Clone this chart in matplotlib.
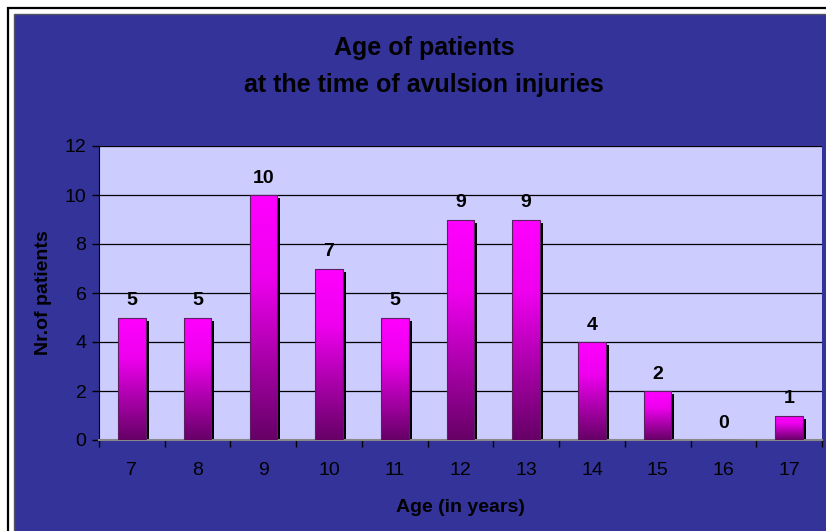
import numpy as np
import matplotlib
matplotlib.use("Agg")
import matplotlib.pyplot as plt
from matplotlib.colors import LinearSegmentedColormap
from matplotlib.patches import Rectangle
from matplotlib.transforms import offset_copy

plt.rcParams['font.family'] = ['Liberation Sans', 'DejaVu Sans']

# data
ages = ["7", "8", "9", "10", "11", "12", "13", "14", "15", "16", "17"]
patients = [5, 5, 10, 7, 5, 9, 9, 4, 2, 0, 1]

W, H = 826, 531
fig = plt.figure(figsize=(W / 100, H / 100), dpi=100)
fig.patch.set_facecolor("white")

# outer frame: black line, white gap, navy panel
fig.patches.append(Rectangle((8 / W, -0.1), 1.2, (H - 8) / H + 0.1,
                             transform=fig.transFigure, facecolor="none",
                             edgecolor="black", linewidth=1.6, zorder=-10))
fig.patches.append(Rectangle((13.5 / W, -0.1), 1.2, (H - 14) / H + 0.1,
                             transform=fig.transFigure, facecolor="#333399",
                             edgecolor="#555566", linewidth=1.0, zorder=-9))

ax = fig.add_axes([99 / W, (H - 440) / H, (822 - 99) / W, (440 - 146) / H])
ax.set_facecolor("#CCCCFF")

x = np.arange(len(ages))
bw = 0.42

# black drop shadow, shifted a few pixels right and down
shadow_tr = offset_copy(ax.transData, fig=fig, x=3, y=-3, units="dots")
ax.bar(x, patients, width=bw, color="black", zorder=2.5, transform=shadow_tr)

bars = ax.bar(x, patients, width=bw, facecolor="none", edgecolor="#5a2060",
              linewidth=0.8, zorder=3.1)

cmap = LinearSegmentedColormap.from_list("mag", ["#660066", "#AA00AA", "#EE00EE", "#FF00FF"])
grad = np.linspace(0, 1, 256).reshape(-1, 1)
for b, v in zip(bars, patients):
    if v > 0:
        x0, w = b.get_x(), b.get_width()
        im = ax.imshow(grad, extent=[x0, x0 + w, 0, v], origin="lower", cmap=cmap,
                       aspect="auto", zorder=3, interpolation="bilinear")
        im.set_clip_path(b)
    ax.annotate(str(v), (b.get_x() + b.get_width() / 2, v), xytext=(0, 6),
                textcoords="offset points", ha="center", va="bottom",
                fontsize=14, fontweight="bold", color="black")

ax.set_xlim(-0.5, len(ages) - 0.5)
ax.set_ylim(0, 12)
ax.set_yticks(range(0, 13, 2))
ax.yaxis.grid(True, color="black", linewidth=0.9)
ax.set_axisbelow(True)

ax.set_xticks(np.arange(-0.5, len(ages), 1.0))
ax.set_xticklabels([])
ax.set_xticks(x, minor=True)
ax.set_xticklabels(ages, minor=True)
ax.tick_params(axis="x", which="major", length=5, width=1, color="black", direction="out")
ax.tick_params(axis="x", which="minor", length=0, pad=16, labelsize=14, labelcolor="black")
ax.tick_params(axis="y", length=5, width=1, color="black", pad=4, labelsize=14, labelcolor="black")

for s in ["top", "right"]:
    ax.spines[s].set_visible(False)
ax.spines["left"].set_color("black")
ax.spines["bottom"].set_color("#888888")
ax.spines["bottom"].set_linewidth(1.5)

ax.set_ylabel("Nr.of patients", fontsize=14, fontweight="bold", labelpad=9)
ax.set_xlabel("Age (in years)", fontsize=14, fontweight="bold", labelpad=14)

fig.text(424 / W, 1 - 48 / H, "Age of patients", ha="center", va="center",
         fontsize=18, fontweight="bold", color="black")
fig.text(424 / W, 1 - 85 / H, "at the time of avulsion injuries", ha="center", va="center",
         fontsize=18, fontweight="bold", color="black")

fig.savefig("out.png", dpi=100, facecolor=fig.get_facecolor())
